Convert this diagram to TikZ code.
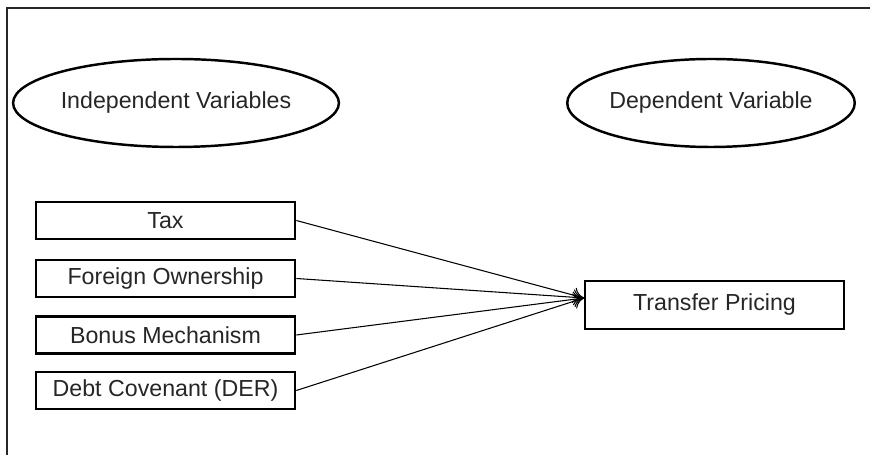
\documentclass[tikz,border=0pt]{standalone}
\usepackage{fontspec}
\setmainfont{Liberation Sans}
\usetikzlibrary{shapes.geometric,arrows.meta}

\begin{document}
\begin{tikzpicture}[font=\fontsize{13.2}{15.8}\selectfont,text=black!85,
  >={To[length=6pt,width=9pt]},
  var/.style={draw,line width=1.5pt,rectangle,minimum width=5.18cm,minimum height=.74cm,inner sep=0pt},
  group/.style={draw,line width=1.4pt,ellipse,minimum width=5.66cm,minimum height=1.76cm,inner sep=0pt}]
\useasboundingbox (0,0) rectangle (17.4,9.1);
\draw[line width=1.3pt,black!85] (0.14,0) -- (0.14,8.94) -- (17.45,8.94);
\node (indep) at (3.52,7.04) [group] {Independent Variables};
\node (dep) at (14.22,7.04) [group,minimum width=5.64cm] {Dependent Variable};
\node (tax) at (3.31,4.69) [var] {Tax};
\node (foreign) at (3.31,3.53) [var] {Foreign Ownership};
\node (bonus) at (3.31,2.4) [var] {Bonus Mechanism};
\node (debt) at (3.31,1.29) [var] {Debt Covenant (DER)};
\node (transfer) at (14.29,3.0) [var,minimum height=.96cm] {Transfer Pricing};
\coordinate (tip) at (11.68,3.14);
\draw[->,line width=.6pt] (tax.east) -- (tip);
\draw[->,line width=.6pt] (foreign.east) -- (tip);
\draw[->,line width=.6pt] (bonus.east) -- (tip);
\draw[->,line width=.6pt] (debt.east) -- (tip);
\end{tikzpicture}
\end{document}
